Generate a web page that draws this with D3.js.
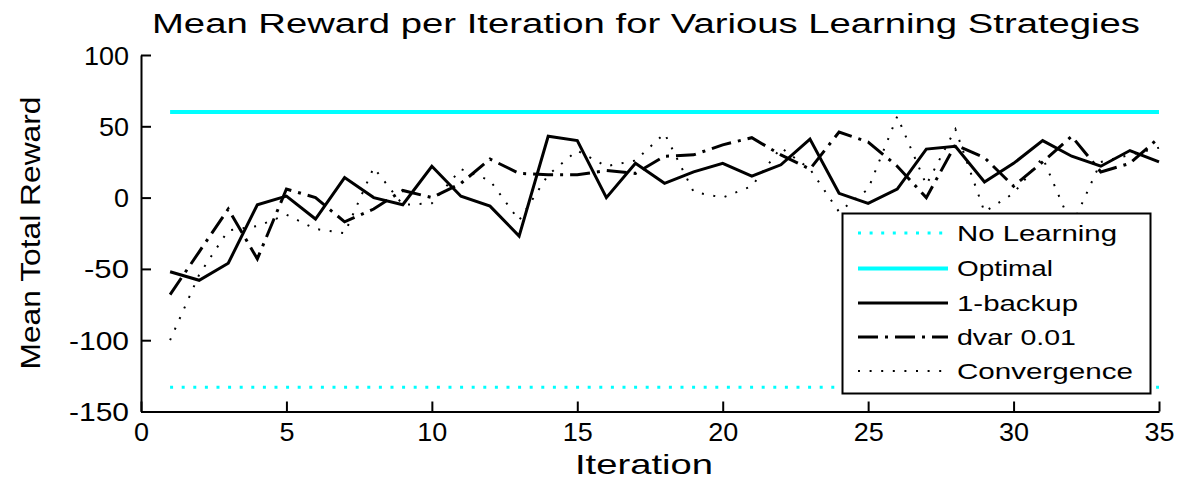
<!DOCTYPE html>
<html>
<head>
<meta charset="utf-8">
<script src="https://cdn.jsdelivr.net/npm/d3@7"></script>
<style>
  html, body { margin: 0; padding: 0; background: #fff; }
  svg { display: block; font-family: "Liberation Sans", Arial, Helvetica, sans-serif; }
</style>
</head>
<body>
<svg id="chart" width="1179" height="479"></svg>
<script>
// ---- data ----
const iterations = [1,2,3,4,5,6,7,8,9,10,11,12,13,14,15,16,17,18,19,20,21,22,23,24,25,26,27,28,29,30,31,32,33,34,35];
const noLearning = -133;
const optimal = 60;
const oneBackup = [-52,-58,-46,-5,1,-15,14,0,-5,22,1,-6,-27,43,40,0,24,10,18,24,15,23,41,3,-4,6,34,36,11,24,40,29,22,33,25];
const dvar001 = [-68,-38,-8,-43,6,0,-17,-8,5,0,10,27,17,16,16,19,17,29,30,37,42,30,20,46,39,22,0,37,28,8,25,43,18,24,42];
const convergence = [-100,-54,-23,-20,-12,-22,-25,21,-5,-4,20,12,-16,16,33,22,26,45,4,0,8,35,20,-10,6,57,9,48,-10,3,28,-20,25,30,35];
const xTicks = [0,5,10,15,20,25,30,35];
const yTicks = [100,50,0,-50,-100,-150];
const legendLabels = ["No Learning","Optimal","1-backup","dvar 0.01","Convergence"];
const titleText = "Mean Reward per Iteration for Various Learning Strategies";
const xLabel = "Iteration";
const yLabel = "Mean Total Reward";

// ---- layout ----
const svg = d3.select("#chart");
const x = d3.scaleLinear().domain([0,35]).range([141,1159]);
const y = d3.scaleLinear().domain([-150,100]).range([411.5,55]);

const styles = [
  {stroke:"#00ffff", width:3, dash:"3,8.6"},
  {stroke:"#00ffff", width:4, dash:null},
  {stroke:"#000", width:3, dash:null},
  {stroke:"#000", width:3, dash:"20,7,3,7"},
  {stroke:"#000", width:2, dash:"2,9.6"}
];

// horizontal reference lines
const first = iterations[0], last = iterations[iterations.length-1];
[[noLearning,styles[0]],[optimal,styles[1]]].forEach(([v,s]) => {
  svg.append("line")
    .attr("x1", x(first)).attr("x2", x(last))
    .attr("y1", y(v)).attr("y2", y(v))
    .attr("stroke", s.stroke).attr("stroke-width", s.width)
    .attr("stroke-dasharray", s.dash);
});

const line = d3.line().x((d,i) => x(iterations[i])).y(d => y(d));
[[convergence,styles[4]],[dvar001,styles[3]],[oneBackup,styles[2]]].forEach(([arr,s]) => {
  svg.append("path").datum(arr)
    .attr("d", line)
    .attr("fill","none")
    .attr("stroke", s.stroke).attr("stroke-width", s.width)
    .attr("stroke-dasharray", s.dash)
    .attr("stroke-linejoin","miter");
});

// axes
const fmt = d => String(d);  // plain hyphen-minus like the original
const xAxis = d3.axisBottom(x).tickValues(xTicks).tickFormat(fmt).tickSizeInner(-10).tickSizeOuter(0);
const yAxis = d3.axisLeft(y).tickValues(yTicks).tickFormat(fmt).tickSizeInner(-10).tickSizeOuter(0).tickPadding(12);
const gx = svg.append("g").attr("transform", `translate(0,${y(-150)})`).call(xAxis);
const gy = svg.append("g").attr("transform", `translate(${x(0)},0)`).call(yAxis);
[gx, gy].forEach(g => {
  g.select(".domain").attr("stroke","#000").attr("stroke-width",2);
  g.selectAll(".tick line").attr("stroke","#000").attr("stroke-width",2);
  g.selectAll(".tick text").attr("fill","#000").attr("font-size",25)
    .attr("font-family","Liberation Sans, Arial, sans-serif")
    .attr("textLength", d => 15 * String(d).length)
    .attr("lengthAdjust","spacingAndGlyphs");
});
gx.selectAll(".tick text").attr("y", 29).attr("dy", null);
gy.selectAll(".tick text").attr("dy","0.36em");

// title and labels
svg.append("text").attr("x", 646).attr("y", 33).attr("text-anchor","middle")
  .attr("font-size", 27).attr("textLength", 988).attr("lengthAdjust","spacingAndGlyphs")
  .text(titleText);
svg.append("text").attr("x", 644).attr("y", 474).attr("text-anchor","middle")
  .attr("font-size", 28).attr("textLength", 138).attr("lengthAdjust","spacingAndGlyphs")
  .text(xLabel);
svg.append("text").attr("transform","translate(40,233) rotate(-90)").attr("text-anchor","middle")
  .attr("font-size", 28).attr("textLength", 273).attr("lengthAdjust","spacingAndGlyphs")
  .text(yLabel);

// legend
const lg = svg.append("g");
lg.append("rect").attr("x",842.5).attr("y",213.5).attr("width",308).attr("height",180)
  .attr("fill","#fff").attr("stroke","#000").attr("stroke-width",2);
const legendY = [233, 268.5, 303, 337, 371];
const legendW = [160, 96, 121, 119, 176];
legendLabels.forEach((lab,i) => {
  const s = styles[i];
  lg.append("line").attr("x1",858).attr("x2",948).attr("y1",legendY[i]).attr("y2",legendY[i])
    .attr("stroke",s.stroke).attr("stroke-width",s.width).attr("stroke-dasharray",s.dash);
  lg.append("text").attr("x",957).attr("y",legendY[i]+7.5).attr("font-size",22)
    .attr("textLength",legendW[i]).attr("lengthAdjust","spacingAndGlyphs").text(lab);
});
</script>
</body>
</html>
